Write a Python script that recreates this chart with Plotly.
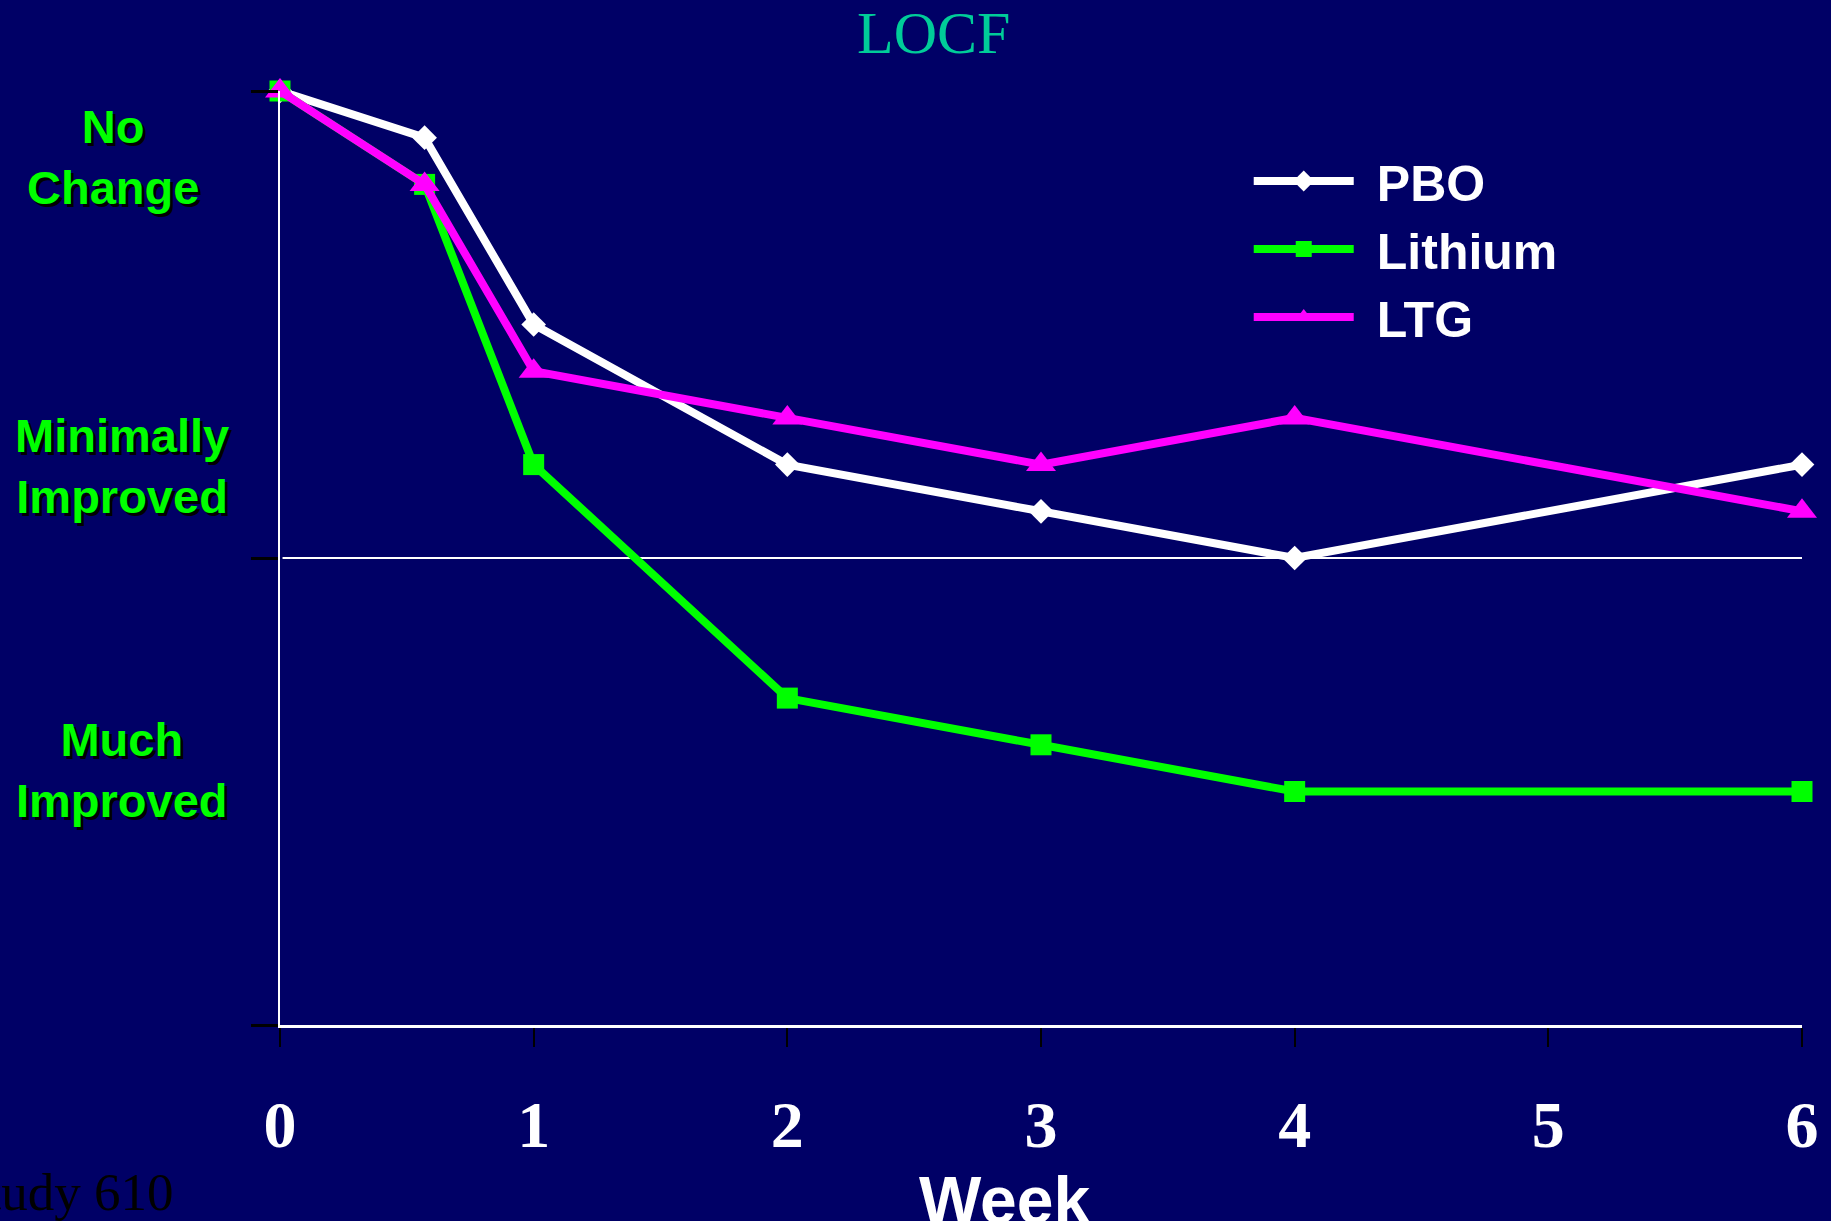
import plotly.graph_objects as go

weeks = [0, 0.57, 1, 2, 3, 4, 6]
pbo = [0, -0.1, -0.5, -0.8, -0.9, -1.0, -0.8]
lithium = [0, -0.2, -0.8, -1.3, -1.4, -1.5, -1.5]
ltg = [0, -0.2, -0.6, -0.7, -0.8, -0.7, -0.9]

x_ticks = [0, 1, 2, 3, 4, 5, 6]
x_ticklabels = ["0", "1", "2", "3", "4", "5", "6"]
y_ticks = [-2, -1, 0]

BG = "#000066"
W, H = 1831, 1221
L, R, T, B = 280, 27, 91, 196
pw, ph = W - L - R, H - T - B

def px_x(p):
    return (p - L) / pw

def px_y(p):
    return 1 - (p - T) / ph

fig = go.Figure()
series = [
    ("PBO", pbo, "#FFFFFF", "diamond", 19),
    ("Lithium", lithium, "#00FF00", "square", 21),
    ("LTG", ltg, "#FF00FF", "triangle-up", 26),
]
for name, vals, col, sym, sz in series:
    fig.add_trace(go.Scatter(
        x=weeks, y=vals, name="\u00a0\u200a" + name, mode="lines+markers",
        line=dict(color=col, width=8),
        marker=dict(symbol=sym, size=sz, color=col),
        cliponaxis=False,
    ))

fig.add_shape(type="line", xref="x", yref="y", x0=0.01, x1=6.01, y0=-1, y1=-1,
              line=dict(color="#FFFFFF", width=2), layer="below")

fig.update_layout(
    width=W, height=H,
    margin=dict(l=L, r=R, t=T, b=B),
    paper_bgcolor=BG, plot_bgcolor=BG,
    showlegend=True,
    legend=dict(
        x=px_x(1250), y=px_y(142), xanchor="left", yanchor="top",
        bgcolor="rgba(0,0,0,0)", itemwidth=100,
        font=dict(family="Liberation Sans", size=50, color="#FFFFFF", weight="bold"),
        tracegroupgap=0,
    ),
    xaxis=dict(
        range=[0, 6], tickvals=x_ticks, ticktext=x_ticklabels,
        showgrid=False, zeroline=False,
        showline=True, linecolor="#FFFFFF", linewidth=3,
        ticks="outside", ticklen=19, tickwidth=2, tickcolor="#000000",
        tickfont=dict(family="Liberation Serif", size=66, color="#FFFFFF", weight="bold"),
        ticklabelstandoff=21,
    ),
    yaxis=dict(
        range=[-2, 0], tickvals=y_ticks, showticklabels=False,
        showgrid=False, zeroline=False,
        showline=True, linecolor="#FFFFFF", linewidth=2,
        ticks="outside", ticklen=27, tickwidth=3, tickcolor="#000000",
    ),
)

lab_font = dict(family="Liberation Sans", size=47, color="#00FF00", weight="bold",
                shadow="3px 3px 0px #000000")
fig.add_annotation(text="No<br>Change", xref="paper", yref="paper",
                   x=px_x(113), y=px_y(157), xanchor="center", yanchor="middle",
                   showarrow=False, font=lab_font)
fig.add_annotation(text="Minimally<br>Improved", xref="paper", yref="paper",
                   x=px_x(122), y=px_y(466), xanchor="center", yanchor="middle",
                   showarrow=False, font=lab_font)
fig.add_annotation(text="Much<br>Improved", xref="paper", yref="paper",
                   x=px_x(122), y=px_y(770), xanchor="center", yanchor="middle",
                   showarrow=False, font=lab_font)

fig.add_annotation(text="LOCF", xref="paper", yref="paper",
                   x=px_x(934), y=px_y(33), xanchor="center", yanchor="middle",
                   showarrow=False,
                   font=dict(family="Liberation Serif", size=60, color="#00CC99"))
fig.add_annotation(text="Week", xref="paper", yref="paper",
                   x=px_x(1006), y=px_y(1200), xanchor="center", yanchor="middle",
                   showarrow=False,
                   font=dict(family="Liberation Sans", size=66, color="#FFFFFF", weight="bold"))
fig.add_annotation(text="Study 610", xref="paper", yref="paper",
                   x=px_x(175), y=px_y(1192), xanchor="right", yanchor="middle",
                   showarrow=False,
                   font=dict(family="Liberation Serif", size=53, color="#000000"))

fig.write_html("out.html",
               config={"displayModeBar": False},
               post_script="document.body.style.margin='0';document.body.style.padding='0';"
                           "document.body.style.background='" + BG + "';")
